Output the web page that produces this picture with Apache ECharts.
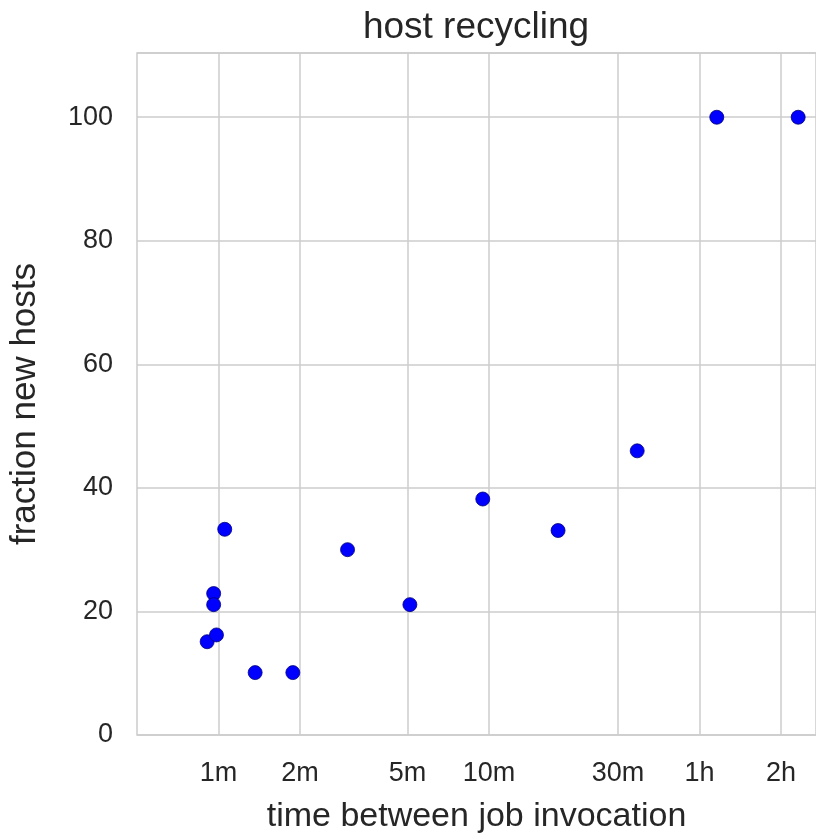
<!DOCTYPE html>
<html>
<head>
<meta charset="utf-8">
<script src="https://cdn.jsdelivr.net/npm/echarts@6/dist/echarts.min.js"></script>
<style>
html,body{margin:0;padding:0;background:#fff;}
#chart{width:816px;height:839px;}
</style>
</head>
<body>
<div id="chart"></div>
<script>
// time between job invocation (seconds)
const times = [54.5, 57.6, 57.6, 59, 63.3, 82, 113, 180, 306, 569, 1080, 2118, 4169, 8335];
// fraction new hosts (%)
const fractions = [15.1, 22.9, 21.1, 16.2, 33.3, 10.1, 10.1, 30.0, 21.1, 38.2, 33.1, 46.0, 100, 100];
// x tick positions (seconds) and labels
const xTickValues = [60, 120, 300, 600, 1800, 3600, 7200];
const xTickLabels = ['1m', '2m', '5m', '10m', '30m', '1h', '2h'];
// y ticks
const yTickValues = [0, 20, 40, 60, 80, 100];

const FONT = "'Liberation Sans', Arial, sans-serif";
const TXT = '#262626';
const GRID = '#cccccc';

const points = times.map((t, i) => [t, fractions[i]]);

const chart = echarts.init(document.getElementById('chart'), null, {renderer: 'canvas'});
chart.setOption({
  animation: false,
  backgroundColor: '#ffffff',
  title: {
    text: 'host recycling',
    left: 476,
    textAlign: 'center',
    top: 9,
    padding: 0,
    textStyle: {fontFamily: FONT, fontSize: 37, fontWeight: 'normal', color: TXT}
  },
  grid: {
    left: 135, right: -1, top: 53, bottom: 100,
    show: true, borderColor: GRID, borderWidth: 1.5
  },
  xAxis: {
    type: 'log',
    logBase: 10,
    min: 30,
    max: 9700,
    name: 'time between job invocation',
    nameLocation: 'middle',
    nameGap: 65,
    nameTextStyle: {fontFamily: FONT, fontSize: 34, color: TXT},
    axisLine: {show: false},
    axisTick: {show: false, customValues: xTickValues},
    axisLabel: {
      customValues: xTickValues,
      margin: 25,
      fontFamily: FONT, fontSize: 27, color: TXT,
      formatter: function (v) {
        let best = 0, bd = Infinity;
        xTickValues.forEach((tv, i) => { const d = Math.abs(Math.log(tv) - Math.log(v)); if (d < bd) { bd = d; best = i; } });
        return xTickLabels[best];
      }
    },
    splitLine: {show: true, lineStyle: {color: GRID, width: 1.5}}
  },
  yAxis: {
    type: 'value',
    min: 0,
    max: 110.4,
    interval: 20,
    name: 'fraction new hosts',
    nameLocation: 'middle',
    nameGap: 94,
    nameRotate: 90,
    nameTextStyle: {fontFamily: FONT, fontSize: 35, color: TXT, padding: [0, 20, 0, 0]},
    axisLine: {show: false},
    axisTick: {show: false},
    axisLabel: {
      margin: 24,
      fontFamily: FONT, fontSize: 27, color: TXT,
      formatter: function (v) { return yTickValues.indexOf(v) >= 0 ? String(v) : ''; }
    },
    splitLine: {show: true, lineStyle: {color: GRID, width: 1.5}}
  },
  series: [{
    type: 'scatter',
    data: points,
    symbol: 'circle',
    symbolSize: 14,
    itemStyle: {color: '#0000ff', borderColor: '#00007a', borderWidth: 0.8, opacity: 1}
  }]
});
</script>
</body>
</html>
